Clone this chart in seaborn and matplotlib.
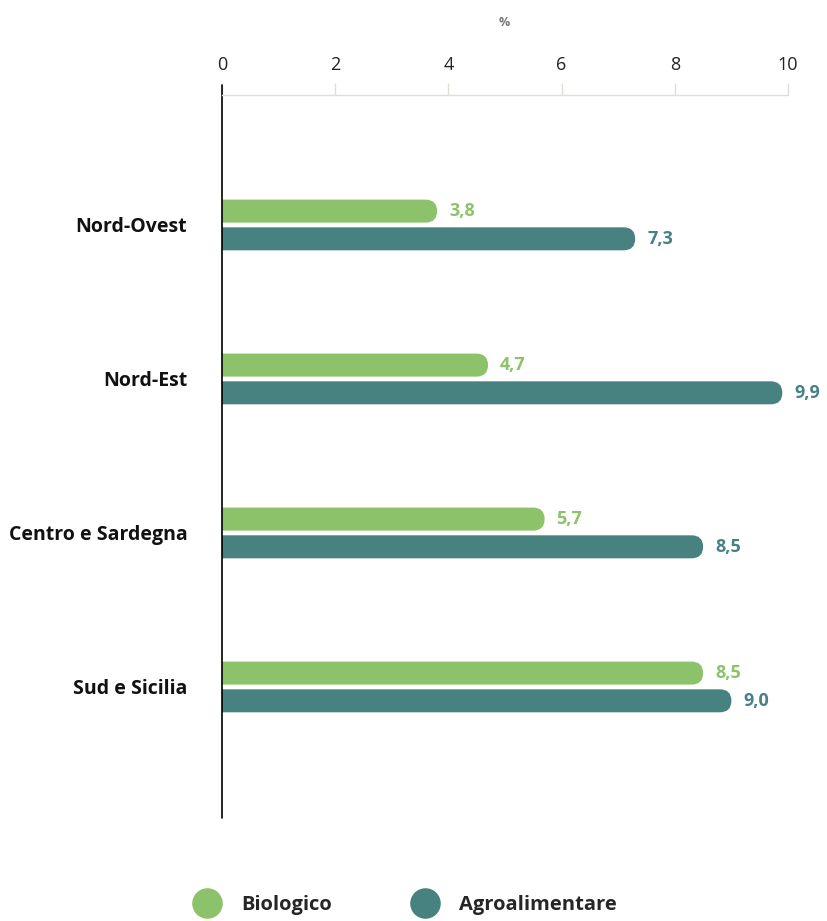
import pandas as pd
import matplotlib.pyplot as plt
import seaborn as sns
from matplotlib.patches import FancyBboxPatch
from matplotlib.lines import Line2D

regions = ["Nord-Ovest", "Nord-Est", "Centro e Sardegna", "Sud e Sicilia"]
biologico = [3.8, 4.7, 5.7, 8.5]
agroalimentare = [7.3, 9.9, 8.5, 9.0]
series = ["Biologico", "Agroalimentare"]
colors = ["#8bc26a", "#478180"]

df = pd.DataFrame({
    "region": regions * 2,
    "serie": [series[0]] * 4 + [series[1]] * 4,
    "value": biologico + agroalimentare,
})

sns.set_theme(style="white")
plt.rcParams["font.family"] = ["Open Sans", "DejaVu Sans"]

fig = plt.figure(figsize=(8.27, 9.21), dpi=100)
ax = fig.add_axes([222 / 827, 1 - 818 / 921, (788 - 222) / 827, (818 - 95) / 921])

sns.barplot(data=df, y="region", x="value", hue="serie", orient="h",
            palette=colors, saturation=1, width=0.36, gap=0.17,
            legend=False, ax=ax)

ax.set_xlim(0, 10)
ax.set_ylim(3.851, -0.844)

# turn the plain rectangles into bars with a rounded right end
fig.canvas.draw()
px_x = ax.transData.transform((1, 0))[0] - ax.transData.transform((0, 0))[0]
px_y = abs(ax.transData.transform((0, 1))[1] - ax.transData.transform((0, 0))[1])
for bar in list(ax.patches):
    x0, y0 = bar.get_x(), bar.get_y()
    w, h = bar.get_width(), bar.get_height()
    col = bar.get_facecolor()
    r = h / 2 * px_y / px_x
    rounded = FancyBboxPatch((x0 - r, y0), w + r, h,
                             boxstyle=f"round,pad=0,rounding_size={r}",
                             mutation_aspect=px_x / px_y,
                             facecolor=col, edgecolor="none", lw=0)
    bar.remove()
    ax.add_patch(rounded)
    ax.text(x0 + w + 12 / px_x, y0 + h / 2, f"{w:.1f}".replace(".", ","),
            color=col, fontsize=13, fontweight="bold", va="center", ha="left")

# axes styling
for s in ["right", "bottom", "left"]:
    ax.spines[s].set_visible(False)
ax.spines["top"].set_color("#e2ddd6")
ax.spines["top"].set_linewidth(1)
ax.axvline(0, ymin=0, ymax=1.014, color="black", lw=1.2, clip_on=False)
ax.xaxis.tick_top()
ax.set_xticks([0, 2, 4, 6, 8, 10])
ax.tick_params(axis="x", direction="out", length=9, width=1, color="#e2ddd6",
               pad=6, labelsize=13, labelcolor="#222222")
ax.tick_params(axis="y", length=0, pad=25, labelsize=14)
for lab in ax.get_yticklabels():
    lab.set_fontweight("bold")
    lab.set_color("#111111")
ax.set_xlabel("")
ax.set_ylabel("")
fig.text(504 / 827, 1 - 22 / 921, "%", ha="center", va="center",
         fontsize=9, color="#777777", fontweight="bold")

handles = [Line2D([], [], marker="o", ls="", markersize=22, color=c, markeredgewidth=0)
           for c in colors]
fig.legend(handles, series, loc="center", bbox_to_anchor=(402 / 827, 1 - 905 / 921),
           ncol=2, frameon=False, prop={"size": 14.5, "weight": "bold"},
           handletextpad=0.7, columnspacing=3.6, borderaxespad=0)

fig.savefig("out.png", dpi=100)
